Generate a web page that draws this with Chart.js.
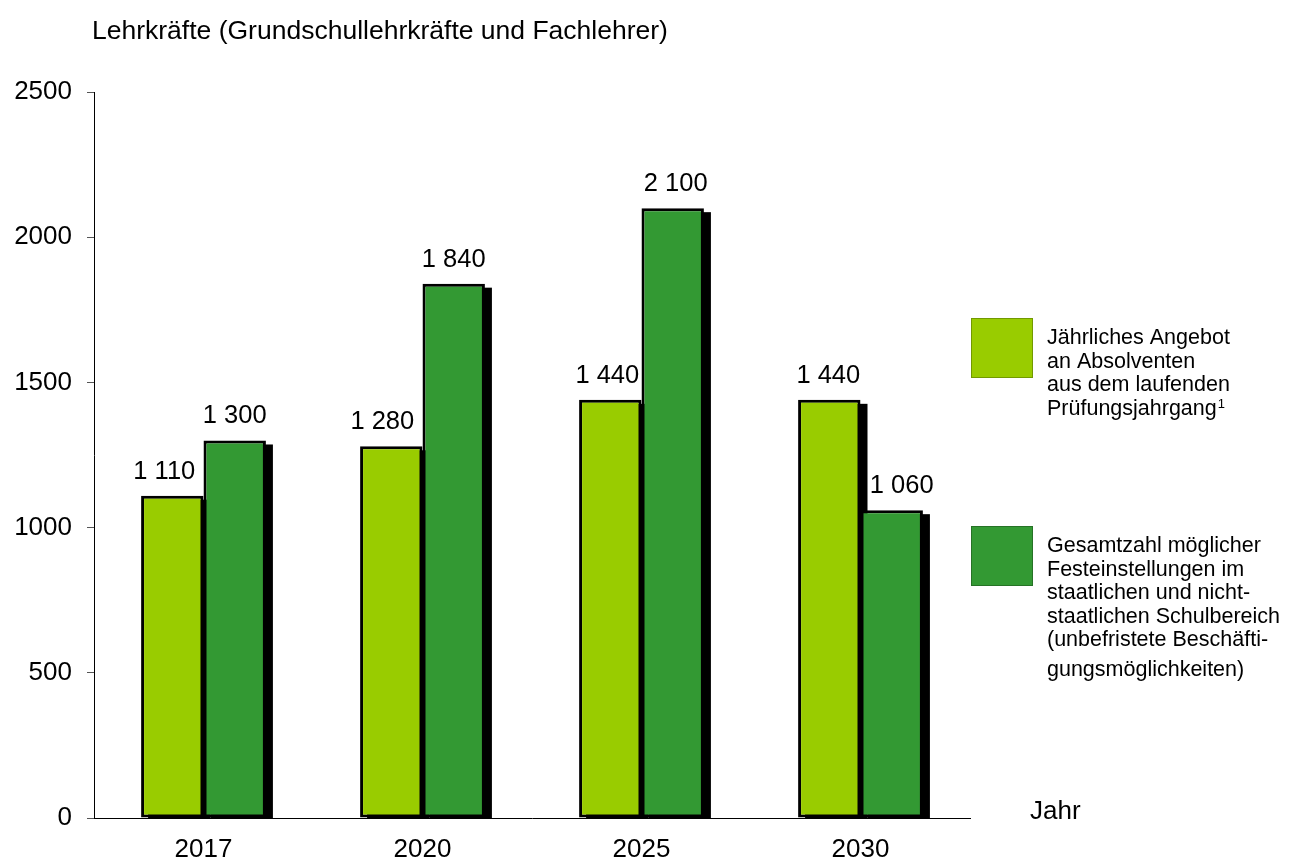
<!DOCTYPE html>
<html>
<head>
<meta charset="utf-8">
<script src="https://cdn.jsdelivr.net/npm/chart.js@4.4.1/dist/chart.umd.min.js"></script>
<style>
  html, body { margin: 0; padding: 0; background: #fff; }
  #wrap { width: 1293px; height: 860px; position: relative; }
</style>
</head>
<body>
<div id="wrap"><canvas id="c" width="1293" height="860"></canvas></div>
<script>
const categories = ['2017', '2020', '2025', '2030'];
const angebot = [1110, 1280, 1440, 1440];
const einstellungen = [1300, 1840, 2100, 1060];
const seriesNames = [
  ['Jährliches Angebot', 'an Absolventen', 'aus dem laufenden', 'Prüfungsjahrgang'],
  ['Gesamtzahl möglicher', 'Festeinstellungen im', 'staatlichen und nicht-', 'staatlichen Schulbereich', '(unbefristete Beschäfti-', 'gungsmöglichkeiten)']
];
const yTicks = [0, 500, 1000, 1500, 2000, 2500];
const titleText = 'Lehrkräfte (Grundschullehrkräfte und Fachlehrer)';
const xAxisName = 'Jahr';

const LIGHT = '#99CC00';
const DARK = '#339933';
const FONT = '"Liberation Sans", Arial, sans-serif';
// small horizontal nudges of value labels (style only), per dataset per category
const labelNudge = [[-8, -9, -3, -1], [0, 0, 3, 10]];

function fmt(v) {
  return String(v).replace(/\B(?=(\d{3})+(?!\d))/g, ' ');
}

const shadowPlugin = {
  id: 'shadow',
  beforeDatasetsDraw(chart) {
    const ctx = chart.ctx;
    ctx.save();
    ctx.fillStyle = '#000';
    chart.data.datasets.forEach((ds, i) => {
      const meta = chart.getDatasetMeta(i);
      meta.data.forEach(el => {
        const p = el.getProps(['x', 'y', 'base', 'width'], true);
        ctx.fillRect(p.x - p.width / 2 + 7, p.y + 4, p.width, p.base - p.y - 4 + 1);
      });
    });
    ctx.restore();
  }
};

const extrasPlugin = {
  id: 'extras',
  afterDraw(chart) {
    const ctx = chart.ctx;
    ctx.save();
    ctx.fillStyle = '#000';
    // title
    ctx.font = '26.5px ' + FONT;
    ctx.textAlign = 'left';
    ctx.textBaseline = 'alphabetic';
    ctx.fillText(titleText, 92, 39);
    // value labels
    ctx.font = '25.5px ' + FONT;
    ctx.textAlign = 'center';
    chart.data.datasets.forEach((ds, i) => {
      const meta = chart.getDatasetMeta(i);
      meta.data.forEach((el, j) => {
        const p = el.getProps(['x', 'y'], true);
        ctx.fillText(fmt(ds.data[j]), p.x + labelNudge[i][j], p.y - 17);
      });
    });
    // axis name
    ctx.font = '26px ' + FONT;
    ctx.textAlign = 'left';
    ctx.fillText(xAxisName, 1030, 819);
    // legend
    const colors = [LIGHT, DARK];
    const tops = [318, 526];
    ctx.font = '21.5px ' + FONT;
    seriesNames.forEach((lines, i) => {
      ctx.fillStyle = colors[i];
      ctx.fillRect(971, tops[i], 62, 60);
      ctx.strokeStyle = 'rgba(0,0,0,0.25)';
      ctx.lineWidth = 1;
      ctx.strokeRect(971.5, tops[i] + 0.5, 61, 59);
      ctx.fillStyle = '#000';
      lines.forEach((ln, k) => {
        let y = tops[i] + 26 + k * 23.5;
        if (i === 1 && k === lines.length - 1) y += 6;
        ctx.fillText(ln, 1047, y);
        if (i === 0 && k === lines.length - 1) {
          const w = ctx.measureText(ln).width;
          ctx.save();
          ctx.font = '13px ' + FONT;
          ctx.fillText('1', 1047 + w + 1, y - 7);
          ctx.restore();
        }
      });
    });
    ctx.restore();
  }
};

new Chart(document.getElementById('c'), {
  type: 'bar',
  data: {
    labels: categories,
    datasets: [
      { label: seriesNames[0].join(' '), data: angebot, backgroundColor: LIGHT, borderColor: '#000', borderWidth: 3, borderSkipped: false },
      { label: seriesNames[1].join(' '), data: einstellungen, backgroundColor: DARK, borderColor: '#000', borderWidth: 3, borderSkipped: false }
    ]
  },
  options: {
    responsive: false,
    animation: false,
    devicePixelRatio: 1,
    layout: { padding: { top: 92, right: 323, bottom: 0, left: 0 } },
    plugins: { legend: { display: false }, title: { display: false }, tooltip: { enabled: false } },
    datasets: { bar: { categoryPercentage: 0.57, barPercentage: 1.0 } },
    scales: {
      x: {
        grid: { display: false, drawTicks: false },
        border: { display: true, color: '#000', width: 1 },
        ticks: { color: '#000', font: { family: FONT, size: 26 }, padding: 16, maxRotation: 0 },
        afterFit(s) { s.height = 42; }
      },
      y: {
        min: 0, max: 2500,
        afterBuildTicks(s) { s.ticks = yTicks.map(v => ({ value: v })); },
        grid: { drawOnChartArea: false, drawTicks: true, tickLength: 7, color: '#555', tickColor: '#555' },
        border: { display: true, color: '#000', width: 1 },
        ticks: { color: '#000', font: { family: FONT, size: 26 }, padding: 15, callback: v => String(v) },
        afterFit(s) { s.width = 94; }
      }
    }
  },
  plugins: [shadowPlugin, extrasPlugin]
});
</script>
</body>
</html>
